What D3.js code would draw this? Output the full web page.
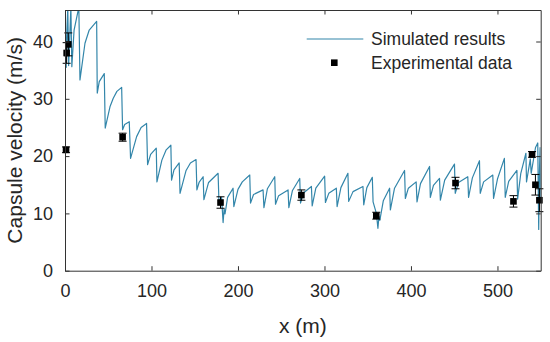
<!DOCTYPE html>
<html>
<head>
<meta charset="utf-8">
<script src="https://cdn.jsdelivr.net/npm/d3@7"></script>
<style>
  body { margin: 0; background: #fff; }
  svg { display: block; }
  text { font-family: "Liberation Sans", Arial, sans-serif; fill: #262626; }
</style>
</head>
<body>
<svg id="chart" width="550" height="342"></svg>
<script>
// values

// simulated capsule velocity (sawtooth), x in m, v in m/s
var simX = [0, 0.4, 1.4, 3.2, 4.2, 6.8, 7.9, 10.5, 16.0, 17.3, 23.1, 28.0, 36.6, 37.3, 39.6, 45.4, 46.5, 52.0, 55.8, 60, 65.5,
  66.6, 69, 74.3, 75.8, 82.8, 88, 94.3, 95.5, 99.0, 105.5, 106.3, 112.0, 117, 122.4, 123.2, 126, 132.0, 133.0, 140, 145, 151.5,
  152.5, 155, 159.7, 160.6, 166, 177.0, 178.0, 181.0, 182.8, 184.0, 185.0, 188, 194.3, 195.2, 200, 205, 213.6, 214.5, 218, 229.0,
  230.0, 234, 242.5, 243.4, 247, 257.9, 258.8, 263, 271.4, 272.3, 276, 284.9, 285.8, 290, 300.2, 301.1, 305, 313.7, 314.6, 319,
  327.1, 328, 333, 344.5, 345.4, 349, 355.3, 356.2, 360, 361.8, 363, 364, 368, 375.3, 376.2, 381, 392.6, 393.5, 397, 406,
  407, 411, 421.5, 422.4, 426, 433, 434, 439, 450.3, 451.2, 455, 465.7, 466.6, 471, 479.2, 480.1, 484, 494.6, 495.5, 500,
  508, 509, 513, 522.5, 523.3, 527, 532.9, 533.6, 538, 539, 544, 546.6, 547.2, 547.7, 548.5, 549.3, 550];
var simY = [0, 46, 35.5, 46, 35.8, 46, 35.6, 42.0, 46, 33.3, 39.7, 42.0, 43.5, 31.0, 33.0, 34.4, 24.9, 28.6, 30.1, 31.3, 32.0,
  24.6, 25.5, 26.0, 19.6, 23.4, 25.0, 25.7, 18.5, 20.3, 21.4, 15.5, 19.3, 21.1, 21.9, 15.8, 17.6, 18.8, 13.5, 17.5, 18.8, 19.4,
  14.1, 15.4, 16.4, 12.4, 15.4, 17.0, 12.0, 12.8, 8.4, 10.8, 9.9, 12.8, 14.4, 11.2, 14.2, 15.5, 16.7, 11.8, 13.3, 14.1,
  11.0, 14.3, 16.4, 11.6, 13.1, 14.1, 11.0, 14.0, 16.1, 11.8, 13.6, 14.7, 11.3, 14.4, 16.5, 11.9, 13.5, 14.4, 11.2, 14.5,
  17.0, 12.1, 13.8, 14.7, 11.5, 14.5, 16.3, 12.0, 10.0, 7.4, 9.5, 8.8, 12.2, 14.4, 10.6, 14.4, 17.5, 12.6, 14.4, 15.5,
  12.0, 15.2, 18.2, 12.8, 14.9, 16.1, 12.3, 15.8, 18.6, 13.5, 15.4, 16.4, 12.8, 16.2, 19.2, 13.5, 15.5, 16.7, 12.6, 16.0,
  19.6, 12.8, 15.6, 17.5, 12.5, 17.0, 20.5, 15.5, 19.5, 17.0, 21.5, 22.3, 14.0, 7.2, 17.0, 21.5, 12.0];

// experimental data with error bars
var expX = [1.2, 1.9, 3.8, 66.6, 179.8, 273.3, 359.9, 451.5, 518.5, 540.0, 543.9, 548.5];
var expY = [21.1, 38.0, 39.5, 23.3, 11.9, 13.2, 9.6, 15.3, 12.1, 20.3, 15.0, 12.3];
var expErr = [0.5, 1.8, 2.0, 0.7, 1.0, 0.9, 0.6, 1.0, 1.0, 0.5, 1.8, 2.0];

var xTicks = [0, 100, 200, 300, 400, 500];
var yTicks = [0, 10, 20, 30, 40];
var legendLabels = ["Simulated results", "Experimental data"];

var svg = d3.select("#chart");
var margin = {top: 10, right: 9.3, bottom: 71.3, left: 65};
var W = 550 - margin.left - margin.right;
var H = 342 - margin.top - margin.bottom;
var lineColor = "#3386aa";

var x = d3.scaleLinear().domain([0, 550]).range([0, W]);
var y = d3.scaleLinear().domain([0, 45.5]).range([H, 0]);

var g = svg.append("g").attr("transform", "translate(" + margin.left + "," + margin.top + ")");

g.append("clipPath").attr("id", "plotClip")
  .append("rect").attr("width", W).attr("height", H);

var simData = simX.map(function(d, i) { return [d, simY[i]]; });
var line = d3.line()
  .x(function(d) { return x(d[0]); })
  .y(function(d) { return y(d[1]); });

g.append("path")
  .datum(simData)
  .attr("clip-path", "url(#plotClip)")
  .attr("d", line)
  .attr("fill", "none")
  .attr("stroke", lineColor)
  .attr("stroke-width", 1.2)
  .attr("stroke-linejoin", "round");

// error bars
var expData = expX.map(function(d, i) { return {x: d, y: expY[i], e: expErr[i]}; });
var bars = g.selectAll(".err").data(expData).enter().append("g").attr("class", "err")
  .attr("stroke", "#000").attr("stroke-width", 1);
bars.append("line")
  .attr("x1", function(d) { return x(d.x); }).attr("x2", function(d) { return x(d.x); })
  .attr("y1", function(d) { return y(d.y - d.e); }).attr("y2", function(d) { return y(d.y + d.e); });
bars.append("line")
  .attr("x1", function(d) { return x(d.x) - 4; }).attr("x2", function(d) { return x(d.x) + 4; })
  .attr("y1", function(d) { return y(d.y - d.e); }).attr("y2", function(d) { return y(d.y - d.e); });
bars.append("line")
  .attr("x1", function(d) { return x(d.x) - 4; }).attr("x2", function(d) { return x(d.x) + 4; })
  .attr("y1", function(d) { return y(d.y + d.e); }).attr("y2", function(d) { return y(d.y + d.e); });

g.selectAll(".pt").data(expData).enter().append("rect")
  .attr("class", "pt")
  .attr("x", function(d) { return x(d.x) - 3.3; })
  .attr("y", function(d) { return y(d.y) - 3.3; })
  .attr("width", 6.6).attr("height", 6.6)
  .attr("fill", "#000");

// axes, ticks inward, box on
var axisColor = "#333";
function styleAxis(sel) {
  sel.select(".domain").attr("stroke", axisColor).attr("stroke-width", 1);
  sel.selectAll(".tick line").attr("stroke", axisColor);
  sel.selectAll(".tick text").style("font-size", "18px").attr("fill", "#262626");
}

g.append("g").attr("transform", "translate(0," + H + ")")
  .call(d3.axisBottom(x).tickValues(xTicks).tickSizeInner(-4.5).tickSizeOuter(0).tickPadding(14))
  .call(styleAxis);
g.append("g")
  .call(d3.axisTop(x).tickValues(xTicks).tickSizeInner(-4.5).tickSizeOuter(0).tickFormat(""))
  .call(styleAxis);
g.append("g")
  .call(d3.axisLeft(y).tickValues(yTicks).tickSizeInner(-4.5).tickSizeOuter(0).tickPadding(12))
  .call(styleAxis);
g.append("g").attr("transform", "translate(" + W + ",0)")
  .call(d3.axisRight(y).tickValues(yTicks).tickSizeInner(-4.5).tickSizeOuter(0).tickFormat(""))
  .call(styleAxis);

// axis titles
svg.append("text")
  .attr("x", margin.left + W / 2).attr("y", 333)
  .attr("text-anchor", "middle")
  .style("font-size", "21px")
  .text("x (m)");
svg.append("text")
  .attr("transform", "translate(22," + (margin.top + H / 2) + ") rotate(-90)")
  .attr("text-anchor", "middle")
  .style("font-size", "21px")
  .text("Capsule velocity (m/s)");

// legend
var lg = svg.append("g");
lg.append("line")
  .attr("x1", 306.7).attr("x2", 363.3).attr("y1", 39).attr("y2", 39)
  .attr("stroke", lineColor).attr("stroke-width", 1.2);
lg.append("rect")
  .attr("x", 334.3 - 3.3).attr("y", 62.7 - 3.3).attr("width", 6.6).attr("height", 6.6)
  .attr("fill", "#000");
lg.selectAll(".lt").data(legendLabels).enter().append("text")
  .attr("class", "lt")
  .attr("x", 371)
  .attr("y", function(d, i) { return 39 + i * 23.7; })
  .attr("dy", "0.35em")
  .style("font-size", "17.5px")
  .text(function(d) { return d; });
</script>
</body>
</html>
